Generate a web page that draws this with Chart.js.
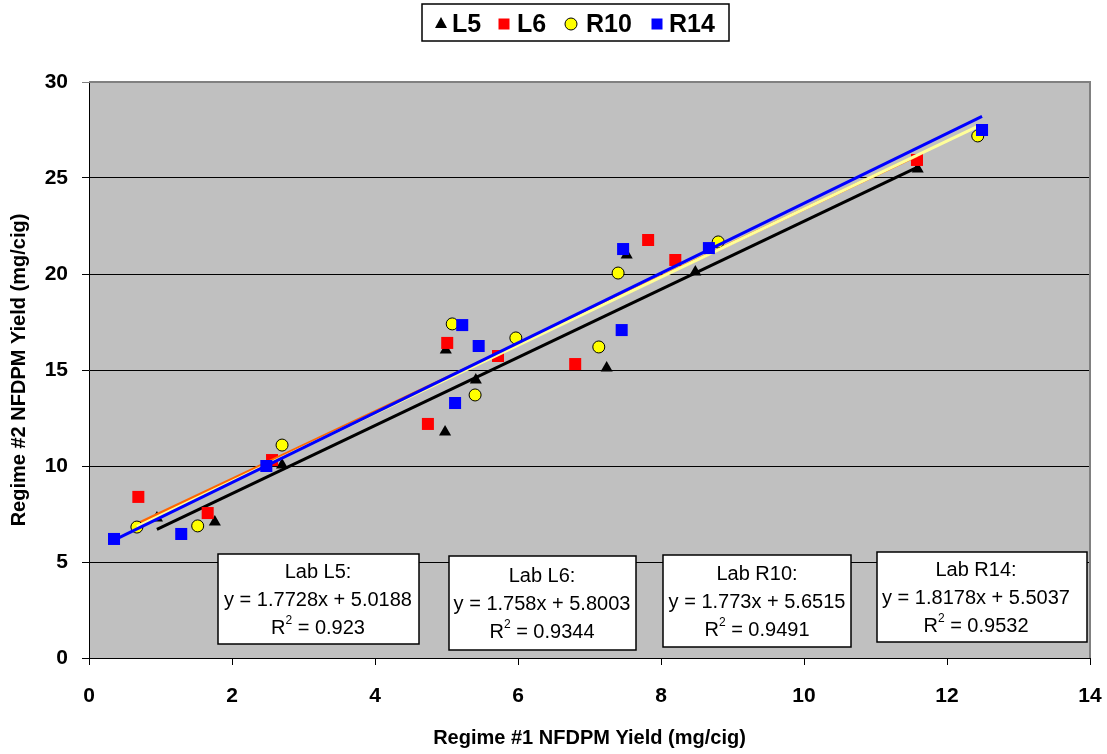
<!DOCTYPE html>
<html>
<head>
<meta charset="utf-8">
<title>NFDPM yield, regime #1 vs regime #2</title>
<script src="https://cdn.jsdelivr.net/npm/chart.js@4.4.1/dist/chart.umd.min.js"></script>
<style>
  html, body { margin: 0; background: #fff; }
  #wrap { width: 1107px; height: 754px; }
</style>
</head>
<body>
<div id="wrap"><canvas id="chart" width="1107" height="754"></canvas></div>
<script>
const labs = ["L5", "L6", "R10", "R14"]

// regime #1 (x) and regime #2 (y) yields per lab, mg/cig
const l5X = [0.95, 1.76, 2.70, 4.99, 4.98, 5.41, 7.24, 7.52, 8.48, 11.59]
const l5Y = [7.29, 7.08, 10.05, 16.04, 11.77, 14.48, 15.10, 20.99, 20.10, 25.47]
const l6X = [0.69, 1.66, 2.56, 5.01, 4.74, 5.72, 6.80, 7.82, 8.20, 11.58]
const l6Y = [8.39, 7.55, 10.31, 16.41, 12.19, 15.73, 15.31, 21.77, 20.73, 25.94]
const r10X = [0.67, 1.52, 2.70, 5.08, 5.40, 5.97, 7.13, 7.40, 8.80, 12.43]
const r10Y = [6.82, 6.88, 11.09, 17.40, 13.70, 16.67, 16.20, 20.05, 21.67, 27.19]
const r14X = [0.35, 1.29, 2.48, 5.22, 5.12, 5.45, 7.45, 7.47, 8.67, 12.49]
const r14Y = [6.20, 6.46, 10.00, 17.34, 13.28, 16.25, 17.08, 21.30, 21.35, 27.50]

// linear fits, y = slope * x + intercept
const slopes = [1.7728, 1.758, 1.773, 1.8178]
const intercepts = [5.0188, 5.8003, 5.6515, 5.5037]
const rSquared = [0.923, 0.9344, 0.9491, 0.9532]

const xTicks = [0, 2, 4, 6, 8, 10, 12, 14]
const yTicks = [0, 5, 10, 15, 20, 25, 30]

const xSeries = [l5X, l6X, r10X, r14X]
const ySeries = [l5Y, l6Y, r10Y, r14Y]

const FONT = "'Liberation Sans', Arial, sans-serif"
const markers = [
  { style: "triangle", radius: 7, fill: "#000", stroke: "#000", border: 0 },
  { style: "rect", radius: 8.5, fill: "#ff0000", stroke: "#ff0000", border: 0 },
  { style: "circle", radius: 6, fill: "#ffff00", stroke: "#000", border: 1 },
  { style: "rect", radius: 8.5, fill: "#0000ff", stroke: "#0000ff", border: 0 }
]
const fitColors = ["#000000", "#ff6600", "#ffff99", "#0000ff"]

// fit text boxes along the bottom of the plot (tx = text centre)
const boxes = [
  { x: 218, y: 554, w: 201, h: 90, tx: 318 },
  { x: 449, y: 556, w: 187, h: 94, tx: 542 },
  { x: 663, y: 555, w: 188, h: 92, tx: 757 },
  { x: 877, y: 552, w: 210, h: 90, tx: 976 }
]

const datasets = []
labs.forEach((lab, i) => {
  const xs = xSeries[i]
  const ys = ySeries[i]
  const m = markers[i]
  const lo = Math.min(...xs)
  const hi = Math.max(...xs)
  // later labs sit on top; each fit line above its own markers
  datasets.push({
    type: "scatter",
    label: lab,
    data: xs.map((x, k) => ({ x, y: ys[k] })),
    pointStyle: m.style,
    pointRadius: m.radius,
    pointHoverRadius: m.radius,
    backgroundColor: m.fill,
    borderColor: m.stroke,
    borderWidth: m.border,
    order: (3 - i) * 2 + 1
  })
  datasets.push({
    type: "line",
    label: lab + " fit",
    data: [lo, hi].map(x => ({ x, y: slopes[i] * x + intercepts[i] })),
    borderColor: fitColors[i],
    borderWidth: 3,
    pointRadius: 0,
    fill: false,
    order: (3 - i) * 2
  })
})

const plotFrame = {
  id: "plotFrame",
  beforeDraw(chart) {
    const { ctx, chartArea: a } = chart
    ctx.save()
    ctx.fillStyle = "#c0c0c0"
    ctx.fillRect(a.left, a.top, a.right - a.left, a.bottom - a.top)
    ctx.restore()
  },
  beforeDatasetsDraw(chart) {
    const { ctx, chartArea: a } = chart
    ctx.save()
    ctx.strokeStyle = "#808080"
    ctx.lineWidth = 2
    ctx.beginPath()
    ctx.moveTo(a.left, a.top)
    ctx.lineTo(a.right, a.top)
    ctx.lineTo(a.right, a.bottom)
    ctx.stroke()
    ctx.restore()
  }
}

function drawMarker(ctx, m, x, y) {
  ctx.fillStyle = m.fill
  ctx.strokeStyle = m.stroke
  ctx.lineWidth = m.border || 1
  ctx.beginPath()
  if (m.style === "triangle") {
    ctx.moveTo(x, y - 7)
    ctx.lineTo(x + 6, y + 4)
    ctx.lineTo(x - 6, y + 4)
    ctx.closePath()
  } else if (m.style === "rect") {
    ctx.rect(x - 5.5, y - 5.5, 11, 11)
  } else {
    ctx.arc(x, y, 6, 0, Math.PI * 2)
  }
  ctx.fill()
  if (m.border) ctx.stroke()
}

const legendBox = {
  id: "legendBox",
  afterDraw(chart) {
    const ctx = chart.ctx
    const markX = [441, 504, 571, 657]
    const textX = [452, 517, 586, 669]
    ctx.save()
    ctx.fillStyle = "#fff"
    ctx.fillRect(422, 4, 307, 37)
    ctx.strokeStyle = "#000"
    ctx.lineWidth = 1.5
    ctx.strokeRect(422, 4, 307, 37)
    ctx.font = "bold 25px " + FONT
    ctx.textBaseline = "middle"
    labs.forEach((lab, i) => {
      drawMarker(ctx, markers[i], markX[i], 24)
      ctx.fillStyle = "#000"
      ctx.fillText(lab, textX[i], 25)
    })
    ctx.restore()
  }
}

const fitLabels = {
  id: "fitLabels",
  afterDatasetsDraw(chart) {
    const ctx = chart.ctx
    ctx.save()
    boxes.forEach((b, i) => {
      ctx.fillStyle = "#fff"
      ctx.fillRect(b.x, b.y, b.w, b.h)
      ctx.strokeStyle = "#000"
      ctx.lineWidth = 1.5
      ctx.strokeRect(b.x, b.y, b.w, b.h)
      const cx = b.tx
      const cy = b.y + b.h / 2
      ctx.fillStyle = "#000"
      ctx.textBaseline = "middle"
      ctx.textAlign = "center"
      ctx.font = "20px " + FONT
      ctx.fillText("Lab " + labs[i] + ":", cx, cy - 27)
      ctx.fillText("y = " + slopes[i] + "x + " + intercepts[i], cx, cy + 1)
      // R² with a raised small 2
      const head = "R"
      const tail = " = " + rSquared[i]
      ctx.font = "20px " + FONT
      const wHead = ctx.measureText(head).width
      const wTail = ctx.measureText(tail).width
      ctx.font = "12px " + FONT
      const wSup = ctx.measureText("2").width
      let x = cx - (wHead + wSup + wTail) / 2
      ctx.textAlign = "left"
      ctx.font = "20px " + FONT
      ctx.fillText(head, x, cy + 29)
      x += wHead
      ctx.font = "12px " + FONT
      ctx.fillText("2", x, cy + 22)
      x += wSup
      ctx.font = "20px " + FONT
      ctx.fillText(tail, x, cy + 29)
    })
    ctx.restore()
  }
}

new Chart(document.getElementById("chart"), {
  data: { datasets },
  options: {
    responsive: false,
    animation: false,
    layout: { padding: { top: 82, right: 17, left: 0, bottom: 0 } },
    plugins: {
      legend: { display: false },
      tooltip: { enabled: false }
    },
    scales: {
      x: {
        type: "linear",
        min: xTicks[0],
        max: xTicks[xTicks.length - 1],
        afterFit: s => {
          s.height = 96
          s.paddingLeft = 0
          s.paddingRight = 0
        },
        afterBuildTicks: s => { s.ticks = xTicks.map(v => ({ value: v })) },
        grid: { drawOnChartArea: false, color: "#000", tickLength: 7 },
        border: { color: "#000", width: 1 },
        ticks: { color: "#000", font: { family: FONT, size: 21, weight: "bold" }, padding: 19 },
        title: {
          display: true,
          text: "Regime #1 NFDPM Yield (mg/cig)",
          color: "#000",
          font: { family: FONT, size: 20, weight: "bold" },
          padding: { top: 4, bottom: 4 }
        }
      },
      y: {
        type: "linear",
        min: yTicks[0],
        max: yTicks[yTicks.length - 1],
        afterFit: s => {
          s.width = 89
          s.paddingTop = 0
          s.paddingBottom = 0
        },
        afterBuildTicks: s => { s.ticks = yTicks.map(v => ({ value: v })) },
        grid: {
          color: c => (c.tick && c.tick.value === 30 ? "#808080" : "#000"),
          tickLength: 7
        },
        border: { color: "#000", width: 1 },
        ticks: { color: "#000", font: { family: FONT, size: 21, weight: "bold" }, padding: 14 },
        title: {
          display: true,
          text: "Regime #2 NFDPM Yield (mg/cig)",
          color: "#000",
          font: { family: FONT, size: 20, weight: "bold" },
          padding: { top: 7, bottom: 4 }
        }
      }
    }
  },
  plugins: [plotFrame, fitLabels, legendBox]
})
</script>
</body>
</html>
